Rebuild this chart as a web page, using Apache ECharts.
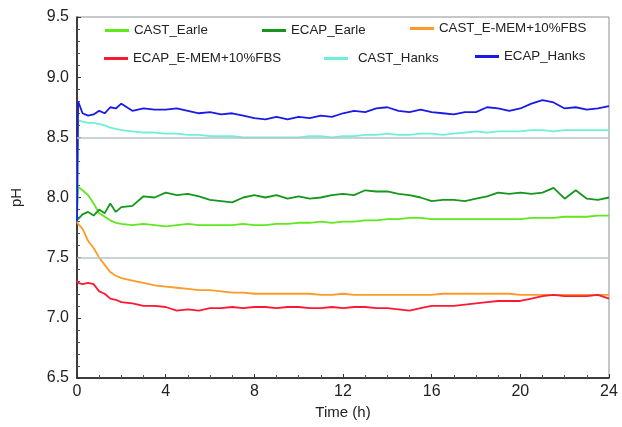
<!DOCTYPE html>
<html>
<head>
<meta charset="utf-8">
<script src="https://cdn.jsdelivr.net/npm/echarts@6/dist/echarts.min.js"></script>
<style>
html, body { margin: 0; padding: 0; background: #fff; }
#main { width: 622px; height: 427px; }
</style>
</head>
<body>
<div id="main"></div>
<script>
var myChart = echarts.init(document.getElementById('main'));

// time in hours
var times = [0, 0.05, 0.25, 0.5, 0.75, 1, 1.25, 1.5, 1.75, 2,
    2.5, 3, 3.5, 4, 4.5, 5, 5.5, 6, 6.5, 7, 7.5, 8, 8.5, 9, 9.5, 10, 10.5, 11, 11.5, 12,
    12.5, 13, 13.5, 14, 14.5, 15, 15.5, 16, 16.5, 17, 17.5, 18, 18.5, 19, 19.5, 20, 20.5, 21, 21.5, 22,
    22.5, 23, 23.5, 24];

var castEarle = [7.85, 8.09, 8.06, 8.02, 7.95, 7.87, 7.84, 7.81, 7.79, 7.78,
    7.77, 7.78, 7.77, 7.76, 7.77, 7.78, 7.77, 7.77, 7.77, 7.77,
    7.78, 7.77, 7.77, 7.78, 7.78, 7.79, 7.79, 7.80, 7.79, 7.80,
    7.80, 7.81, 7.81, 7.82, 7.82, 7.83, 7.83, 7.82, 7.82, 7.82,
    7.82, 7.82, 7.82, 7.82, 7.82, 7.82, 7.83, 7.83, 7.83, 7.84,
    7.84, 7.84, 7.85, 7.85];
var ecapEarle = [7.85, 7.82, 7.86, 7.88, 7.85, 7.90, 7.87, 7.95, 7.88, 7.92,
    7.93, 8.01, 8.00, 8.04, 8.02, 8.03, 8.01, 7.98, 7.97, 7.96,
    8.00, 8.02, 8.00, 8.02, 7.99, 8.01, 7.99, 8.00, 8.02, 8.03,
    8.02, 8.06, 8.05, 8.05, 8.03, 8.02, 8.00, 7.97, 7.98, 7.98,
    7.97, 7.99, 8.01, 8.04, 8.03, 8.04, 8.03, 8.04, 8.08, 7.99,
    8.06, 7.99, 7.98, 8.00];
var castEmem = [7.80, 7.78, 7.74, 7.64, 7.58, 7.50, 7.44, 7.38, 7.35, 7.33,
    7.31, 7.29, 7.27, 7.26, 7.25, 7.24, 7.23, 7.23, 7.22, 7.21,
    7.21, 7.20, 7.20, 7.20, 7.20, 7.20, 7.20, 7.19, 7.19, 7.20,
    7.19, 7.19, 7.19, 7.19, 7.19, 7.19, 7.19, 7.19, 7.20, 7.20,
    7.20, 7.20, 7.20, 7.20, 7.20, 7.19, 7.19, 7.19, 7.19, 7.19,
    7.19, 7.19, 7.19, 7.19];
var ecapEmem = [7.31, 7.29, 7.28, 7.29, 7.28, 7.22, 7.20, 7.16, 7.15, 7.13,
    7.12, 7.10, 7.10, 7.09, 7.06, 7.07, 7.06, 7.08, 7.08, 7.09,
    7.08, 7.09, 7.09, 7.08, 7.09, 7.09, 7.08, 7.08, 7.09, 7.08,
    7.09, 7.09, 7.08, 7.08, 7.07, 7.06, 7.08, 7.10, 7.10, 7.10,
    7.11, 7.12, 7.13, 7.14, 7.14, 7.14, 7.16, 7.18, 7.19, 7.18,
    7.18, 7.18, 7.19, 7.16];
var castHanks = [7.80, 8.64, 8.63, 8.62, 8.62, 8.61, 8.60, 8.58, 8.57, 8.56,
    8.55, 8.54, 8.54, 8.53, 8.53, 8.52, 8.52, 8.51, 8.51, 8.51,
    8.50, 8.50, 8.50, 8.50, 8.50, 8.50, 8.51, 8.51, 8.50, 8.51,
    8.51, 8.52, 8.52, 8.53, 8.52, 8.52, 8.53, 8.53, 8.52, 8.53,
    8.54, 8.55, 8.54, 8.55, 8.55, 8.55, 8.56, 8.56, 8.55, 8.56,
    8.56, 8.56, 8.56, 8.56];
var ecapHanks = [7.80, 8.80, 8.70, 8.68, 8.69, 8.72, 8.70, 8.75, 8.74, 8.78,
    8.72, 8.74, 8.73, 8.73, 8.74, 8.72, 8.70, 8.71, 8.69, 8.70,
    8.68, 8.66, 8.65, 8.67, 8.65, 8.67, 8.66, 8.68, 8.67, 8.70,
    8.72, 8.71, 8.74, 8.75, 8.72, 8.71, 8.73, 8.71, 8.70, 8.69,
    8.71, 8.71, 8.75, 8.74, 8.72, 8.74, 8.78, 8.81, 8.79, 8.74,
    8.75, 8.73, 8.74, 8.76];

var names = ['CAST_Earle', 'ECAP_Earle', 'CAST_E-MEM+10%FBS', 'ECAP_E-MEM+10%FBS', 'CAST_Hanks', 'ECAP_Hanks'];
var colors = ['#5fe81c', '#15961c', '#ff9a26', '#ff1834', '#6fefd8', '#1a1ae8'];
var values = [castEarle, ecapEarle, castEmem, ecapEmem, castHanks, ecapHanks];
var refLines = [8.5, 7.5];
var xTicks = [0, 4, 8, 12, 16, 20, 24];

// legend positions (left, top)
var legendPos = [[105, 24], [262, 24], [410, 22], [104, 52], [324, 52], [475, 50]];

function pairs(arr) {
    return arr.map(function (v, i) { return [times[i], v]; });
}

var series = values.map(function (arr, i) {
    var s = {
        name: names[i],
        type: 'line',
        data: pairs(arr),
        showSymbol: false,
        symbol: 'none',
        lineStyle: { width: 1.8, color: colors[i] },
        itemStyle: { color: colors[i] },
        z: 3
    };
    return s;
});
series.unshift({
    name: 'ref',
    type: 'line',
    data: [],
    markLine: {
        silent: true,
        symbol: 'none',
        label: { show: false },
        lineStyle: { color: '#b7c3cb', width: 1.5, type: 'solid' },
        data: refLines.map(function (v) { return { yAxis: v }; })
    },
    z: 1
});

var legends = names.map(function (n, i) {
    return {
        data: [n],
        left: legendPos[i][0],
        top: legendPos[i][1],
        padding: 0,
        itemWidth: 24,
        itemHeight: 3,
        icon: 'rect',
        itemGap: 0,
        textStyle: {
            fontFamily: 'Liberation Sans, Arial, sans-serif',
            fontSize: 13.3,
            color: '#222',
            padding: [0, 0, 0, i == 4 ? 5 : 0]
        }
    };
});

option = {
    animation: false,
    backgroundColor: '#fff',
    legend: legends,
    grid: {
        left: 77,
        right: 13,
        top: 17,
        bottom: 49,
        show: true,
        borderColor: '#8a8f94',
        borderWidth: 1
    },
    xAxis: {
        type: 'value',
        min: 0,
        max: 24,
        interval: 4,
        name: 'Time (h)',
        nameLocation: 'middle',
        nameGap: 24,
        nameTextStyle: { fontFamily: 'Liberation Sans, Arial, sans-serif', fontSize: 15, color: '#222' },
        axisLine: { lineStyle: { color: '#111', width: 1.5 } },
        axisTick: { inside: true, length: 4, lineStyle: { color: '#333' } },
        minorTick: { show: true, splitNumber: 4, length: 3, lineStyle: { color: '#555' } },
        axisLabel: {
            margin: 6,
            fontFamily: 'Liberation Sans, Arial, sans-serif',
            fontSize: 16,
            color: '#222',
            formatter: function (v) { return xTicks.indexOf(v) >= 0 ? v : ''; }
        },
        splitLine: { show: false }
    },
    yAxis: {
        type: 'value',
        min: 6.5,
        max: 9.5,
        interval: 0.5,
        name: 'pH',
        nameLocation: 'middle',
        nameGap: 53,
        nameTextStyle: { fontFamily: 'Liberation Sans, Arial, sans-serif', fontSize: 15, color: '#222' },
        axisLine: { show: true, lineStyle: { color: '#111', width: 1.5 } },
        axisTick: { inside: true, length: 4, lineStyle: { color: '#333' } },
        minorTick: { show: true, splitNumber: 5, length: 3, lineStyle: { color: '#555' } },
        axisLabel: {
            margin: 8,
            fontFamily: 'Liberation Sans, Arial, sans-serif',
            fontSize: 16,
            color: '#222',
            formatter: function (v) { return v.toFixed(1); }
        },
        splitLine: { show: false }
    },
    series: series
};

myChart.setOption(option);
</script>
</body>
</html>
